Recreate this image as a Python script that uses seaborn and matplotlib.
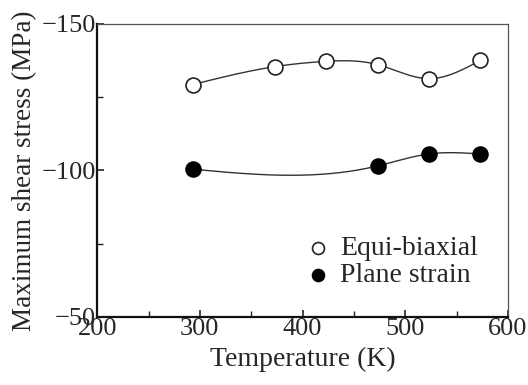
import numpy as np
import matplotlib
matplotlib.use("Agg")
import matplotlib.pyplot as plt
import seaborn as sns

# values
temp_equi = [293, 373, 423, 473, 523, 573]
stress_equi = [-129.3, -135.4, -137.2, -136.1, -131.3, -137.5]
temp_plane = [293, 473, 523, 573]
stress_plane = [-100.4, -101.5, -105.6, -105.6]


def natural_spline(x, y, n=200):
    # plain natural cubic spline through the measured points
    x = np.asarray(x, float)
    y = np.asarray(y, float)
    m = len(x)
    h = np.diff(x)
    A = np.zeros((m, m))
    b = np.zeros(m)
    A[0, 0] = A[-1, -1] = 1
    for i in range(1, m - 1):
        A[i, i - 1] = h[i - 1]
        A[i, i] = 2 * (h[i - 1] + h[i])
        A[i, i + 1] = h[i]
        b[i] = 6 * ((y[i + 1] - y[i]) / h[i] - (y[i] - y[i - 1]) / h[i - 1])
    M = np.linalg.solve(A, b)
    xs = np.linspace(x[0], x[-1], n)
    k = np.clip(np.searchsorted(x, xs) - 1, 0, m - 2)
    t0 = x[k + 1] - xs
    t1 = xs - x[k]
    ys = (M[k] * t0**3 + M[k + 1] * t1**3) / (6 * h[k]) \
        + (y[k] / h[k] - M[k] * h[k] / 6) * t0 \
        + (y[k + 1] / h[k] - M[k + 1] * h[k] / 6) * t1
    return xs, ys


sns.set_style("ticks")
plt.rcParams["font.family"] = ["Liberation Serif", "DejaVu Serif"]

fig = plt.figure(figsize=(5.28, 3.85), dpi=100)
ax = fig.add_axes([0.184, 0.177, 0.778, 0.761])

xe, ye = natural_spline(temp_equi, stress_equi)
xp, yp = natural_spline(temp_plane, stress_plane)
sns.lineplot(x=xe, y=ye, ax=ax, color="#333333", lw=1.0, sort=False)
sns.lineplot(x=xp, y=yp, ax=ax, color="#333333", lw=1.0, sort=False)

sns.scatterplot(x=temp_equi, y=stress_equi, ax=ax, s=115, marker="o",
                facecolor="white", edgecolor="#222222", linewidth=1.2,
                zorder=3, label="Equi-biaxial")
sns.scatterplot(x=temp_plane, y=stress_plane, ax=ax, s=115, marker="o",
                facecolor="black", edgecolor="black", linewidth=1.2,
                zorder=3, label="Plane strain")

ax.set_xlim(200, 600)
ax.set_ylim(-50, -150)
ax.set_xticks([200, 300, 400, 500, 600])
ax.set_yticks([-150, -100, -50])
ax.set_xticks([250, 350, 450, 550], minor=True)
ax.set_yticks([-125, -75], minor=True)
ax.set_yticklabels(["\u2212150", "\u2212100", "\u221250"])

ax.tick_params(which="major", direction="in", length=5, width=1.2,
               labelsize=19, pad=1, color="#222222")
ax.tick_params(which="minor", direction="in", length=4, width=1.0,
               color="#222222")

for side in ["left", "bottom"]:
    ax.spines[side].set_linewidth(1.6)
    ax.spines[side].set_color("#111111")
for side in ["top", "right"]:
    ax.spines[side].set_visible(True)
    ax.spines[side].set_linewidth(0.9)
    ax.spines[side].set_color("#555555")

ax.set_xlabel("Temperature (K)", fontsize=20, labelpad=5)
ax.set_ylabel("Maximum shear stress (MPa)", fontsize=19.5, labelpad=3)

leg = ax.legend(loc="lower right", bbox_to_anchor=(0.955, 0.06), frameon=False,
                fontsize=20, handletextpad=0.2, labelspacing=0.05,
                markerscale=0.8, borderaxespad=0, handlelength=1.2)

fig.savefig("out.png", dpi=100)
